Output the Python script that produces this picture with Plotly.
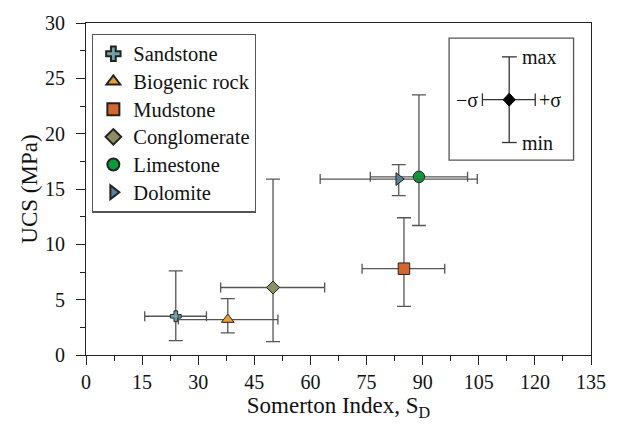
import plotly.graph_objects as go

# ---- data ----
rock_types = ["Sandstone", "Biogenic rock", "Mudstone", "Conglomerate", "Limestone", "Dolomite"]
somerton_mean = [24.0, 37.9, 85.0, 50.0, 89.0, 83.6]
somerton_minus_sigma = [15.7, 24.7, 73.8, 36.0, 76.0, 62.6]
somerton_plus_sigma = [32.2, 51.3, 95.9, 63.8, 102.0, 104.6]
ucs_mean = [3.5, 3.2, 7.8, 6.1, 16.1, 15.9]
ucs_min = [1.3, 2.0, 4.4, 1.2, 11.7, 14.4]
ucs_max = [7.6, 5.1, 12.4, 15.9, 23.5, 17.2]

symbols = ["cross", "triangle-up", "square", "diamond", "circle", "triangle-right"]
colors = ["#6FA3A6", "#E8A030", "#D2672F", "#8E8E62", "#0A9A3A", "#5B7F9B"]
sizes = [9, 11, 11.5, 10, 11.5, 11]

x_ticks = [0, 15, 30, 45, 60, 75, 90, 105, 120, 135]
y_ticks = [0, 5, 10, 15, 20, 25, 30]

x_title = "Somerton Index, S<sub>D</sub>"
y_title = "UCS (MPa)"

FONT = "'Liberation Serif', 'Times New Roman', Times, serif"
ERR = "#555555"

fig = go.Figure()
for i, name in enumerate(rock_types):
    fig.add_trace(go.Scatter(
        x=[somerton_mean[i]], y=[ucs_mean[i]], mode="markers",
        name=f"<span style='font-size:20.5px'>{name}</span>",
        marker=dict(symbol=symbols[i], size=sizes[i], color=colors[i],
                    line=dict(color="#222222", width=1)),
        error_x=dict(type="data", symmetric=False,
                     array=[somerton_plus_sigma[i] - somerton_mean[i]],
                     arrayminus=[somerton_mean[i] - somerton_minus_sigma[i]],
                     color=ERR, thickness=1.3, width=5),
        error_y=dict(type="data", symmetric=False,
                     array=[ucs_max[i] - ucs_mean[i]],
                     arrayminus=[ucs_mean[i] - ucs_min[i]],
                     color=ERR, thickness=1.3, width=7),
    ))

# ---- inset key (decoration, paper coordinates) ----
cx, cy = 0.838, 0.769
shapes = [
    dict(type="rect", xref="paper", yref="paper", x0=0.719, x1=0.9655, y0=0.587, y1=0.9545,
         line=dict(color="#555555", width=1.3), fillcolor="rgba(0,0,0,0)"),
    dict(type="line", xref="paper", yref="paper", x0=cx, x1=cx, y0=0.640, y1=0.898,
         line=dict(color="#333333", width=1.3)),
    dict(type="line", xref="paper", yref="paper", x0=0.8236, x1=0.853, y0=0.898, y1=0.898,
         line=dict(color="#333333", width=1.3)),
    dict(type="line", xref="paper", yref="paper", x0=0.8236, x1=0.853, y0=0.640, y1=0.640,
         line=dict(color="#333333", width=1.3)),
    dict(type="line", xref="paper", yref="paper", x0=0.785, x1=0.8896, y0=cy, y1=cy,
         line=dict(color="#333333", width=1.3)),
    dict(type="line", xref="paper", yref="paper", x0=0.785, x1=0.785, y0=cy - 0.019, y1=cy + 0.019,
         line=dict(color="#333333", width=1.3)),
    dict(type="line", xref="paper", yref="paper", x0=0.8896, x1=0.8896, y0=cy - 0.019, y1=cy + 0.019,
         line=dict(color="#333333", width=1.3)),
    dict(type="path", xref="paper", yref="paper",
         path=f"M {cx - 0.012} {cy} L {cx} {cy + 0.0195} L {cx + 0.012} {cy} L {cx} {cy - 0.0195} Z",
         fillcolor="black", line=dict(color="black", width=1)),
]
txt = dict(family=FONT, size=20, color="#111")
annotations = [
    dict(xref="paper", yref="paper", x=0.8598, y=0.898, text="max", showarrow=False,
         xanchor="left", yanchor="middle", font=txt),
    dict(xref="paper", yref="paper", x=0.8598, y=0.640, text="min", showarrow=False,
         xanchor="left", yanchor="middle", font=txt),
    dict(xref="paper", yref="paper", x=0.781, y=cy, text="\u2212\u03c3", showarrow=False,
         xanchor="right", yanchor="middle", font=txt),
    dict(xref="paper", yref="paper", x=0.8935, y=cy, text="+\u03c3", showarrow=False,
         xanchor="left", yanchor="middle", font=txt),
]

axis_common = dict(
    showline=True, linecolor="#222222", linewidth=1.2, mirror=True,
    ticks="outside", ticklen=9, tickwidth=1.2, tickcolor="#222222",
    showgrid=False, zeroline=False,
    tickfont=dict(family=FONT, size=20, color="#111"),
)

fig.update_layout(
    width=619, height=428,
    margin=dict(l=86, r=28, t=19, b=73),
    paper_bgcolor="white", plot_bgcolor="white",
    font=dict(family=FONT, size=20, color="#111"),
    showlegend=True,
    legend=dict(x=0.012, y=0.968, xanchor="left", yanchor="top",
                bordercolor="#555555", borderwidth=1.3, bgcolor="white",
                font=dict(family=FONT, size=19, color="#111"),
                tracegroupgap=0, itemsizing="constant"),
    xaxis=dict(range=[0, 135], tickvals=x_ticks, ticktext=[str(v) for v in x_ticks],
               minor=dict(dtick=7.5, tick0=0, ticks="outside", ticklen=5, tickwidth=1.2, tickcolor="#222222"),
               title=dict(text=x_title, standoff=4,
                          font=dict(family=FONT, size=23, color="#111")),
               **axis_common),
    yaxis=dict(range=[0, 30], tickvals=y_ticks, ticktext=[str(v) for v in y_ticks],
               minor=dict(dtick=2.5, tick0=0, ticks="outside", ticklen=5, tickwidth=1.2, tickcolor="#222222"),
               ticklabelstandoff=7,
               title=dict(text=y_title, standoff=0,
                          font=dict(family=FONT, size=23, color="#111")),
               **axis_common),
    shapes=shapes, annotations=annotations,
)

fig.write_html("out.html")
